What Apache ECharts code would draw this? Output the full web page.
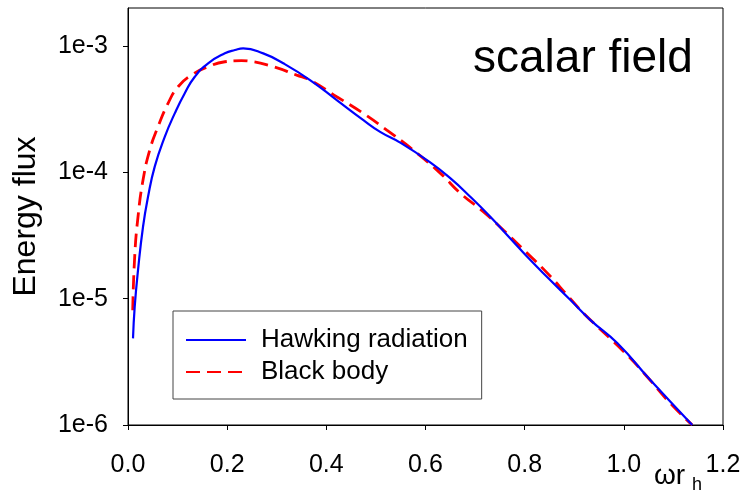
<!DOCTYPE html>
<html>
<head>
<meta charset="utf-8">
<script src="https://cdn.jsdelivr.net/npm/echarts@6/dist/echarts.min.js"></script>
<style>
  html, body { margin: 0; padding: 0; background: #fff; }
  #chart { width: 744px; height: 493px; }
</style>
</head>
<body>
<div id="chart"></div>
<script>
// values (omega*r_h , energy flux)
const hawkX = [0.0101, 0.0135, 0.0202, 0.0303, 0.0404, 0.0539, 0.0741, 0.0943, 0.1145, 0.1347, 0.1616, 0.1954, 0.2156, 0.2323, 0.2727, 0.3131, 0.3671, 0.4210, 0.4747, 0.5085, 0.5489, 0.6095, 0.6499, 0.6903, 0.7307, 0.7711, 0.8115, 0.8519, 0.8923, 0.9327, 0.9867, 1.0539, 1.138];
const hawkY = [4.85e-6, 8.6e-6, 1.68e-5, 3.71e-5, 6.41e-5, 1.11e-4, 1.91e-4, 2.93e-4, 4.23e-4, 5.71e-4, 7.30e-4, 8.75e-4, 9.30e-4, 9.59e-4, 8.75e-4, 7.30e-4, 5.38e-4, 3.73e-4, 2.59e-4, 2.09e-4, 1.72e-4, 1.20e-4, 9.0e-5, 6.41e-5, 4.45e-5, 3.00e-5, 2.02e-5, 1.40e-5, 9.75e-6, 6.77e-6, 4.45e-6, 2.26e-6, 1.0e-6];

const bodyX = [0.0095, 0.0135, 0.0202, 0.0303, 0.0438, 0.0606, 0.0808, 0.1010, 0.1281, 0.1616, 0.1954, 0.229, 0.2459, 0.2929, 0.3402, 0.3671, 0.4210, 0.4747, 0.5220, 0.5752, 0.6297, 0.6701, 0.7166, 0.7570, 0.8048, 0.8453, 0.8883, 0.919, 1.0034, 1.047, 1.094, 1.138];
const bodyY = [8.1e-6, 2.15e-5, 4.45e-5, 8.69e-5, 1.50e-4, 2.30e-4, 3.52e-4, 4.76e-4, 5.89e-4, 6.86e-4, 7.51e-4, 7.65e-4, 7.58e-4, 6.86e-4, 5.89e-4, 5.38e-4, 3.97e-4, 2.93e-4, 2.16e-4, 1.50e-4, 9.86e-5, 6.85e-5, 4.88e-5, 3.49e-5, 2.30e-5, 1.60e-5, 1.04e-5, 7.66e-6, 3.69e-6, 2.41e-6, 1.48e-6, 1.0e-6];

const xTicks = [0, 0.2, 0.4, 0.6, 0.8, 1.0, 1.2];
const yTicks = [1e-6, 1e-5, 1e-4, 1e-3];

const seriesNames = ['Hawking radiation', 'Black body'];

const font = 'Liberation Sans, Arial, sans-serif';

function zip(xs, ys) {
    return xs.map((x, i) => [x, ys[i]]);
}

const chart = echarts.init(document.getElementById('chart'));

chart.setOption({
    animation: false,
    backgroundColor: '#fff',
    grid: {
        left: 128, right: 21, top: 8, bottom: 68,
        show: true,
        borderColor: '#000',
        borderWidth: 1
    },
    xAxis: {
        type: 'value',
        min: 0, max: 1.2, interval: 0.2,
        axisLine: { lineStyle: { color: '#000', width: 1 } },
        axisTick: { show: true, inside: false, length: 5, lineStyle: { color: '#000' }, customValues: xTicks },
        axisLabel: {
            color: '#000', fontSize: 25, fontFamily: font, margin: 28,
            customValues: xTicks,
            formatter: v => v.toFixed(1)
        },
        splitLine: { show: false }
    },
    yAxis: {
        type: 'log',
        logBase: 10,
        min: 1e-6, max: 2e-3,
        name: 'Energy flux',
        nameLocation: 'middle',
        nameGap: 86,
        nameTextStyle: { color: '#000', fontSize: 32, fontFamily: font },
        axisLine: { show: true, lineStyle: { color: '#000', width: 1 } },
        axisTick: { show: true, inside: false, length: 5, lineStyle: { color: '#000' }, customValues: yTicks },
        axisLabel: {
            color: '#000', fontSize: 25, fontFamily: font, margin: 20,
            customValues: yTicks,
            formatter: v => '1e' + Math.round(Math.log10(v))
        },
        minorTick: { show: false },
        splitLine: { show: false }
    },
    legend: {
        orient: 'vertical',
        left: 173, top: 311,
        padding: [16, 14, 14, 12],
        itemGap: 6,
        itemWidth: 60,
        itemHeight: 14,
        borderColor: '#444',
        borderWidth: 1,
        backgroundColor: '#fff',
        // hide the little symbol that line series put in the legend
        itemStyle: { opacity: 0 },
        textStyle: { color: '#000', fontSize: 26, fontFamily: font, padding: [0, 0, 0, 10] },
        data: seriesNames
    },
    graphic: [
        {
            type: 'text', left: 473, top: 36,
            style: { text: 'scalar field', font: '46px ' + font, fill: '#000' }
        },
        {
            type: 'text', left: 654, top: 462,
            style: { text: 'ωr', font: '28px ' + font, fill: '#000' }
        },
        {
            type: 'text', left: 692, top: 476,
            style: { text: 'h', font: '18px ' + font, fill: '#000' }
        }
    ],
    series: [
        {
            name: seriesNames[0],
            type: 'line',
            data: zip(hawkX, hawkY),
            smooth: 0.5,
            showSymbol: false,
            symbol: 'none',
            clip: true,
            lineStyle: { color: '#0000ff', width: 2.2 },
            itemStyle: { color: '#0000ff' },
            z: 3
        },
        {
            name: seriesNames[1],
            type: 'line',
            data: zip(bodyX, bodyY),
            smooth: 0.5,
            showSymbol: false,
            symbol: 'none',
            clip: true,
            lineStyle: { color: '#ff0000', width: 2.8, type: [14, 7] },
            itemStyle: { color: '#ff0000' },
            z: 2
        }
    ]
});
</script>
</body>
</html>
